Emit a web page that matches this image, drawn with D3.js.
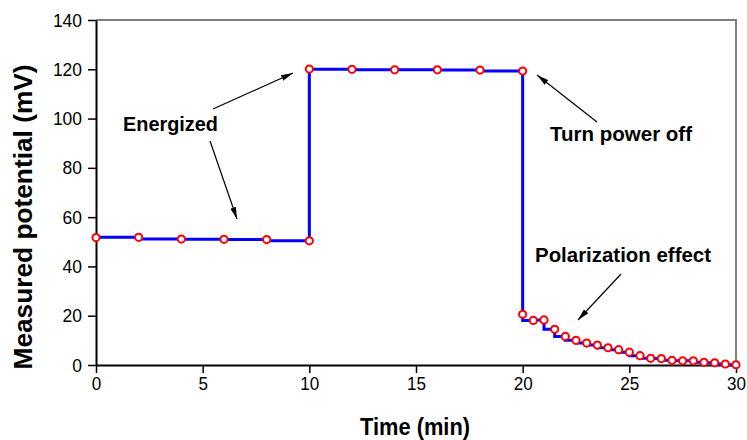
<!DOCTYPE html>
<html><head><meta charset="utf-8">
<script src="https://cdn.jsdelivr.net/npm/d3@7"></script>
<style>body{margin:0;background:#fff;} svg{display:block;font-family:"Liberation Sans",Arial,sans-serif;}</style>
</head><body><svg id="c" width="747" height="440"></svg>
<script>
const times = [0,2,4,6,8,10, 10,12,14,16,18,20, 20,20.5,21,21.5,22,22.5,23,23.5,24,24.5,25,25.5,26,26.5,27,27.5,28,28.5,29,29.5,30];
const potential = [51.7,51.8,51.1,51.0,50.9,50.4, 120.1,120.0,119.8,119.8,119.7,119.3,
  20.6,18.1,18.3,14.5,11.6,10.0,8.9,8.1,7.0,6.2,5.2,3.8,2.7,2.6,1.9,1.7,1.7,1.1,0.9,0.4,0.1];
const xTicks = [0,5,10,15,20,25,30];
const yTicks = [0,20,40,60,80,100,120,140];
const annotations = [
  {text:"Energized", x:123, y:131, w:95},
  {text:"Turn power off", x:550, y:141, w:142},
  {text:"Polarization effect", x:535, y:262, w:176}
];
const arrows = [
  [213,109,293,73],[210,141,237,219],[597,122,537,75],[621,274,578,320]
];

const svg = d3.select("#c");
const L=96,R=736,T=20,B=365;
const x = d3.scaleLinear().domain([0,30]).range([L,R]);
const y = d3.scaleLinear().domain([0,140]).range([B,T]);

// frame top/right
svg.append("path").attr("d",`M${L},${T}H${R}V${B}`).attr("fill","none").attr("stroke","#808080").attr("stroke-width",2);

const xa = svg.append("g").attr("transform",`translate(0,${B})`)
  .call(d3.axisBottom(x).tickValues(xTicks).tickSize(8).tickPadding(4).tickSizeOuter(0));
const ya = svg.append("g").attr("transform",`translate(${L},0)`)
  .call(d3.axisLeft(y).tickValues(yTicks).tickSize(8).tickPadding(6).tickSizeOuter(0));
[xa,ya].forEach(a=>{
  a.select(".domain").attr("stroke","#000").attr("stroke-width",2);
  a.selectAll(".tick line").attr("stroke","#000").attr("stroke-width",1.5);
  a.selectAll("text").attr("font-size",19).attr("fill","#000").attr("font-family","Liberation Sans, Arial, sans-serif");
});
xa.selectAll("text").each(function(){ d3.select(this).attr("textLength", this.textContent.length*9.5).attr("lengthAdjust","spacingAndGlyphs"); });
ya.selectAll("text").each(function(){ d3.select(this).attr("textLength", this.textContent.length*9.7).attr("lengthAdjust","spacingAndGlyphs"); });

const data = times.map((t,i)=>[t,potential[i]]);
svg.append("path").datum(data)
  .attr("d", d3.line().x(d=>x(d[0])).y(d=>y(d[1])).curve(d3.curveStepBefore))
  .attr("fill","none").attr("stroke","#0000ff").attr("stroke-width",3);
svg.selectAll("circle.pt").data(data).join("circle").attr("class","pt")
  .attr("cx",d=>x(d[0])).attr("cy",d=>y(d[1])).attr("r",3.6)
  .attr("fill","#fff").attr("stroke","#ff0000").attr("stroke-width",2);

// axis titles
svg.append("text").attr("x",415).attr("y",435).attr("text-anchor","middle")
  .attr("font-size",23).attr("font-weight","bold").attr("textLength",110).attr("lengthAdjust","spacingAndGlyphs").text("Time (min)");
svg.append("text").attr("transform","translate(32,217) rotate(-90)").attr("text-anchor","middle")
  .attr("font-size",25).attr("font-weight","bold").attr("textLength",305).attr("lengthAdjust","spacingAndGlyphs").text("Measured potential (mV)");

// annotations
svg.append("defs").append("marker").attr("id","ah").attr("viewBox","0 0 12 6").attr("refX",12).attr("refY",3)
  .attr("markerWidth",12).attr("markerHeight",6).attr("markerUnits","userSpaceOnUse").attr("orient","auto")
  .append("path").attr("d","M0,0L12,3L0,6Z").attr("fill","#000");
svg.selectAll("line.arr").data(arrows).join("line").attr("class","arr")
  .attr("x1",d=>d[0]).attr("y1",d=>d[1]).attr("x2",d=>d[2]).attr("y2",d=>d[3])
  .attr("stroke","#000").attr("stroke-width",1.2).attr("marker-end","url(#ah)");
svg.selectAll("text.ann").data(annotations).join("text").attr("class","ann")
  .attr("x",d=>d.x).attr("y",d=>d.y).attr("font-size",21).attr("font-weight","bold")
  .attr("textLength",d=>d.w).attr("lengthAdjust","spacingAndGlyphs").text(d=>d.text);
</script></body></html>
